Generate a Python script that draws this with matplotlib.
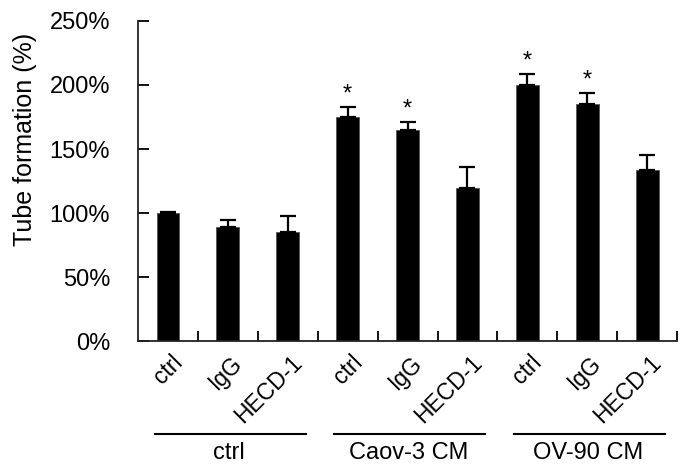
import numpy as np
import matplotlib
matplotlib.use("Agg")
import matplotlib.pyplot as plt
from matplotlib.transforms import ScaledTranslation

plt.rcParams['font.family'] = ['Liberation Sans', 'DejaVu Sans']

# datos
etiquetas = ['ctrl', 'IgG', 'HECD-1'] * 3
grupos = ['ctrl', 'Caov-3 CM', 'OV-90 CM']
valores = [100, 89, 85, 175, 165, 120, 200, 185, 134]
errores = [0.6, 6, 13, 8, 6, 16, 8.5, 8.5, 11]
signif = [False, False, False, True, True, False, True, True, False]

fig = plt.figure(figsize=(6.91, 4.71), dpi=100)
ax = fig.add_axes([0.1997, 0.275, 0.7803, 0.681])

x = np.arange(len(valores))
ax.bar(x, valores, width=0.38, color='black', edgecolor='#555555', linewidth=0.6,
       yerr=[np.zeros(len(errores)), errores], capsize=6,
       error_kw=dict(ecolor='black', elinewidth=1.6, capthick=1.6))

for i in range(len(valores)):
    if signif[i]:
        ax.text(x[i], valores[i] + errores[i] + 1.0, '*', ha='center', va='bottom',
                fontsize=17)

ax.set_xlim(-0.5, len(valores) - 0.5)
ax.set_ylim(0, 250)
ax.set_yticks(np.arange(0, 251, 50))
ax.set_yticklabels([f"{v}%" for v in range(0, 251, 50)], fontsize=17)
ax.set_ylabel('Tube formation (%)', fontsize=18)
ax.yaxis.set_label_coords(-0.188, 0.631)

ax.spines['top'].set_visible(False)
ax.spines['right'].set_visible(False)
for s in ['left', 'bottom']:
    ax.spines[s].set_linewidth(1.3)
    ax.spines[s].set_color('#222222')
ax.tick_params(axis='y', direction='in', length=8, width=1.3, pad=20)

# ticks del eje x entre categorias
ax.set_xticks(np.arange(0.5, len(valores), 1.0))
ax.set_xticklabels([])
ax.tick_params(axis='x', which='major', direction='in', length=7, width=1.3)
ax.set_xticks(x, minor=True)
ax.set_xticklabels(etiquetas, minor=True, rotation=45, ha='right', va='top',
                   fontsize=16.5)
ax.tick_params(axis='x', which='minor', length=0, pad=7)
desplaza = ScaledTranslation(0.19, 0, fig.dpi_scale_trans)
for lab in ax.get_xticklabels(minor=True):
    lab.set_transform(lab.get_transform() + desplaza)

# lineas y etiquetas de grupo
trans = ax.get_xaxis_transform()
for g, nombre in enumerate(grupos):
    c = 3 * g + 1
    ax.plot([c - 1.22, c + 1.3], [-0.288, -0.288], color='black', linewidth=1.5,
            transform=trans, clip_on=False)
    ax.text(c + 0.02, -0.347, nombre, transform=trans, ha='center', va='center',
            fontsize=17)

fig.savefig('out.png', dpi=100)
